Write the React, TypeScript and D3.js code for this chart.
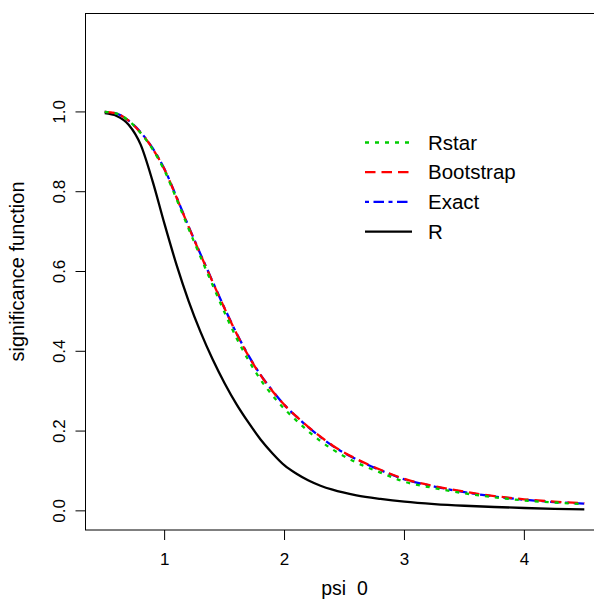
import * as d3 from 'd3';

// psi 0 grid the curves were read on
const psi = [0.5, 0.6, 0.7, 0.8, 0.9, 1.0, 1.1, 1.2, 1.3, 1.4, 1.5, 1.6, 1.7, 1.8, 1.9, 2.0, 2.1, 2.2, 2.3, 2.4, 2.6, 2.8, 3.0, 3.25, 3.5, 3.75, 4.0, 4.25, 4.5];

const rValues = [0.997, 0.99, 0.968, 0.918, 0.826, 0.718, 0.616, 0.526, 0.448, 0.38, 0.32, 0.267, 0.221, 0.179, 0.144, 0.114, 0.093, 0.076, 0.063, 0.053, 0.039, 0.03, 0.023, 0.017, 0.0128, 0.0097, 0.0072, 0.0052, 0.0037];
const bootstrapValues = [1.0, 0.996, 0.978, 0.948, 0.908, 0.855, 0.785, 0.712, 0.642, 0.574, 0.507, 0.444, 0.388, 0.34, 0.3, 0.265, 0.236, 0.21, 0.186, 0.164, 0.13, 0.103, 0.08, 0.062, 0.048, 0.037, 0.029, 0.023, 0.019];
const exactValues = [1.0, 0.996, 0.978, 0.949, 0.909, 0.856, 0.786, 0.713, 0.643, 0.575, 0.508, 0.445, 0.389, 0.341, 0.301, 0.265, 0.236, 0.209, 0.185, 0.163, 0.129, 0.102, 0.079, 0.061, 0.047, 0.036, 0.028, 0.022, 0.018];
const rstarValues = [1.0, 0.996, 0.978, 0.947, 0.906, 0.852, 0.781, 0.707, 0.636, 0.566, 0.497, 0.433, 0.377, 0.329, 0.289, 0.255, 0.226, 0.199, 0.175, 0.154, 0.121, 0.096, 0.073, 0.057, 0.044, 0.034, 0.026, 0.021, 0.017];

const xTicks = [1, 2, 3, 4];
const yTicks = [0, 0.2, 0.4, 0.6, 0.8, 1.0];

const legendLabels = ['Rstar', 'Bootstrap', 'Exact', 'R'];

const W = 594;
const H = 599;
const FONT = '"Liberation Sans", Arial, Helvetica, sans-serif';

const series = [
  { name: 'Exact', values: exactValues, color: '#0000FF', dash: '4,4.5,10.5,4.5' },
  { name: 'Bootstrap', values: bootstrapValues, color: '#FF0000', dash: '10.5,6' },
  { name: 'Rstar', values: rstarValues, color: '#00CD00', dash: '4,6' },
  { name: 'R', values: rValues, color: '#000000', dash: 'none' },
];

export default function App() {
  const x = d3.scaleLinear().domain([0.34, 4.66]).range([85.5, 603.5]);
  const y = d3.scaleLinear().domain([-0.048, 1.248]).range([530, 13]);

  const line = d3
    .line<number>()
    .x((_, i) => x(psi[i]))
    .y((d) => y(d))
    .curve(d3.curveMonotoneX);

  // black drawn first, then the others on top
  const drawOrder = ['R', 'Exact', 'Bootstrap', 'Rstar'];
  const styleOf = (name: string) => series.find((s) => s.name === name)!;

  const legendX0 = 365;
  const legendX1 = 412;
  const legendText = 428;
  const legendY0 = 142.5;
  const legendStep = 29.7;

  return (
    <svg
      width={W}
      height={H}
      style={{ position: 'absolute', left: 0, top: 0, background: '#fff' }}
      fontFamily={FONT}
    >
      {/* curves */}
      {drawOrder.map((name) => {
        const s = styleOf(name);
        return (
          <path
            key={name}
            d={line(s.values) || ''}
            fill="none"
            stroke={s.color}
            strokeWidth={2.3}
            strokeDasharray={s.dash}
          />
        );
      })}

      {/* plot box */}
      <rect x={85.5} y={13.5} width={518} height={516.5} fill="none" stroke="#000" strokeWidth={1} />

      {/* x axis */}
      {xTicks.map((t) => (
        <g key={'x' + t}>
          <line x1={x(t)} x2={x(t)} y1={530} y2={540} stroke="#000" strokeWidth={1} />
          <text x={x(t)} y={565} textAnchor="middle" fontSize={17}>
            {t}
          </text>
        </g>
      ))}
      <text x={x(2.5)} y={595} textAnchor="middle" fontSize={19.5} style={{ whiteSpace: 'pre' }}>
        {'psi  0'}
      </text>

      {/* y axis */}
      {yTicks.map((t) => (
        <g key={'y' + t}>
          <line x1={75.5} x2={85.5} y1={y(t)} y2={y(t)} stroke="#000" strokeWidth={1} />
          <text
            transform={`translate(65,${y(t)}) rotate(-90)`}
            textAnchor="middle"
            fontSize={17}
          >
            {t.toFixed(1)}
          </text>
        </g>
      ))}
      <text
        transform={`translate(24,${(13 + 530) / 2}) rotate(-90)`}
        textAnchor="middle"
        fontSize={20}
      >
        significance function
      </text>

      {/* legend */}
      {legendLabels.map((label, i) => {
        const s = styleOf(label);
        const ly = legendY0 + i * legendStep;
        return (
          <g key={label}>
            <line
              x1={legendX0}
              x2={legendX1}
              y1={ly}
              y2={ly}
              stroke={s.color}
              strokeWidth={2.3}
              strokeDasharray={s.dash}
            />
            <text x={legendText} y={ly + 7} fontSize={20.5}>
              {label}
            </text>
          </g>
        );
      })}
    </svg>
  );
}
